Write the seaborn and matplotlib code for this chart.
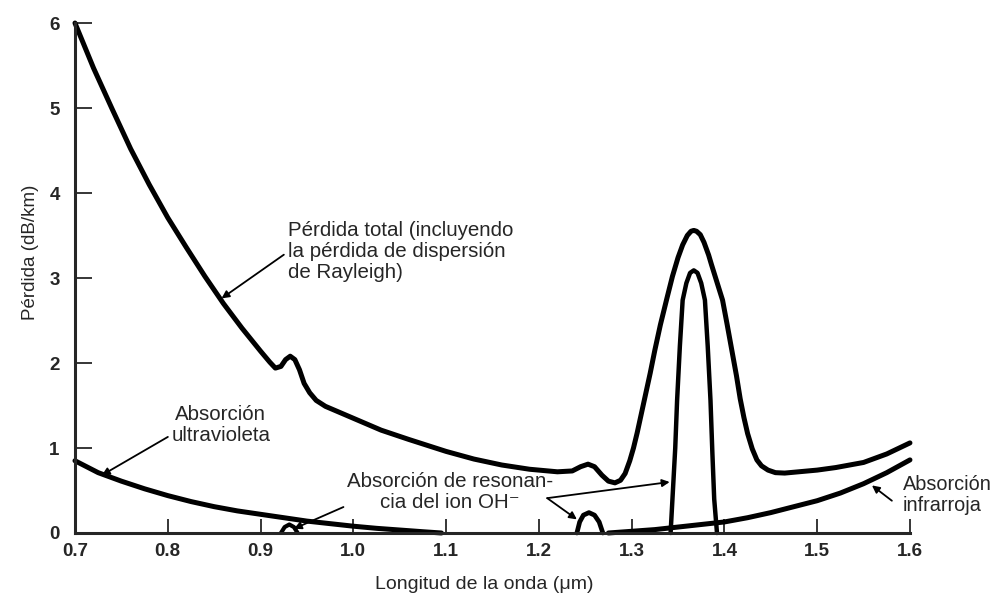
import matplotlib
matplotlib.use("Agg")
import matplotlib.pyplot as plt
import seaborn as sns

# ---- datos ----
# pérdida total (incluye Rayleigh)
total_x = [0.700, 0.720, 0.740, 0.760, 0.780, 0.800, 0.820, 0.840, 0.860, 0.880,
           0.900, 0.910, 0.916, 0.922, 0.927, 0.932, 0.937, 0.942, 0.947, 0.953,
           0.960, 0.970, 0.985, 1.000, 1.030, 1.060, 1.080, 1.100, 1.130, 1.160,
           1.190, 1.220, 1.236, 1.245, 1.253, 1.260, 1.268, 1.275, 1.282, 1.288,
           1.293, 1.298, 1.302, 1.306, 1.310, 1.314, 1.320, 1.325, 1.331, 1.338,
           1.344, 1.350, 1.355, 1.360, 1.364, 1.367, 1.370, 1.374, 1.378, 1.383,
           1.386, 1.392, 1.398, 1.403, 1.408, 1.413, 1.417, 1.421, 1.425, 1.430,
           1.435, 1.440, 1.447, 1.455, 1.465, 1.480, 1.500, 1.520, 1.550, 1.575,
           1.600]
total_y = [6.00, 5.47, 4.99, 4.52, 4.10, 3.71, 3.36, 3.02, 2.70, 2.41,
           2.14, 2.01, 1.94, 1.96, 2.04, 2.08, 2.04, 1.92, 1.76, 1.65,
           1.56, 1.49, 1.42, 1.35, 1.21, 1.10, 1.03, 0.96, 0.87, 0.80,
           0.75, 0.72, 0.73, 0.78, 0.81, 0.78, 0.68, 0.61, 0.59, 0.62,
           0.70, 0.85, 1.00, 1.18, 1.38, 1.58, 1.88, 2.15, 2.45, 2.76,
           3.02, 3.24, 3.39, 3.50, 3.55, 3.56, 3.55, 3.51, 3.42, 3.27,
           3.16, 2.95, 2.74, 2.45, 2.15, 1.85, 1.58, 1.36, 1.17, 0.99,
           0.86, 0.79, 0.74, 0.71, 0.705, 0.72, 0.74, 0.77, 0.83, 0.93,
           1.06]

# absorción ultravioleta
uv_x = [0.700, 0.725, 0.750, 0.775, 0.800, 0.825, 0.850, 0.875, 0.900,
        0.925, 0.950, 0.975, 1.000, 1.025, 1.050, 1.075, 1.095]
uv_y = [0.85, 0.71, 0.61, 0.52, 0.44, 0.37, 0.31, 0.26, 0.22,
        0.18, 0.14, 0.11, 0.08, 0.055, 0.035, 0.015, 0.00]

# absorción infrarroja
ir_x = [1.275, 1.300, 1.325, 1.350, 1.375, 1.400, 1.425, 1.450, 1.475,
        1.500, 1.525, 1.550, 1.575, 1.600]
ir_y = [0.00, 0.02, 0.04, 0.07, 0.10, 0.13, 0.18, 0.24, 0.31,
        0.38, 0.47, 0.58, 0.71, 0.86]

# picos de resonancia del ion OH-
oh1_x = [0.922, 0.926, 0.931, 0.936, 0.940]
oh1_y = [0.00, 0.07, 0.10, 0.07, 0.00]
oh2_x = [1.241, 1.244, 1.248, 1.254, 1.260, 1.265, 1.269]
oh2_y = [0.00, 0.13, 0.21, 0.24, 0.21, 0.13, 0.00]
oh3_x = [1.342, 1.344, 1.347, 1.349, 1.352, 1.355, 1.359, 1.363, 1.367,
         1.371, 1.375, 1.379, 1.382, 1.385, 1.387, 1.389, 1.392]
oh3_y = [0.00, 0.40, 1.00, 1.56, 2.20, 2.74, 2.94, 3.06, 3.09,
         3.06, 2.94, 2.74, 2.20, 1.56, 0.95, 0.40, 0.00]

x_ticks = [0.7, 0.8, 0.9, 1.0, 1.1, 1.2, 1.3, 1.4, 1.5, 1.6]
x_ticklabels = ['0.7', '0.8', '0.9', '1.0', '1.1', '1.2', '1.3', '1.4', '1.5', '1.6']
y_ticks = [0, 1, 2, 3, 4, 5, 6]

sns.set_style("ticks")
plt.rcParams['font.family'] = ['Liberation Sans', 'DejaVu Sans']

fig = plt.figure(figsize=(9.97, 5.98), dpi=100)
ax = fig.add_axes([0.0752, 0.1087, 0.8375, 0.8528])

curves = [(total_x, total_y, 3.6), (uv_x, uv_y, 3.6), (ir_x, ir_y, 3.6),
          (oh1_x, oh1_y, 3.0), (oh2_x, oh2_y, 3.4), (oh3_x, oh3_y, 3.2)]
for cx, cy, lw in curves:
    sns.lineplot(x=cx, y=cy, ax=ax, color='black', linewidth=lw,
                 sort=False, estimator=None, solid_capstyle='round',
                 solid_joinstyle='round', clip_on=False)

ax.set_xlim(0.7, 1.6)
ax.set_ylim(0, 6)
ax.set_xticks(x_ticks)
ax.set_xticklabels(x_ticklabels, fontweight='bold', fontsize=13.5)
ax.set_yticks(y_ticks)
ax.set_yticklabels([str(v) for v in y_ticks], fontweight='bold', fontsize=13.5)
ax.tick_params(axis='y', direction='in', length=12, width=1.3, pad=11)
ax.tick_params(axis='x', direction='in', length=10, width=1.3, pad=7)

sns.despine(ax=ax)
for side in ['left', 'bottom']:
    ax.spines[side].set_linewidth(2.2)

ax.set_xlabel('Longitud de la onda (μm)', fontsize=14)
ax.set_ylabel('Pérdida (dB/km)', fontsize=13.5)
ax.xaxis.set_label_coords(0.49, -0.085)
ax.yaxis.set_label_coords(-0.043, 0.55)

arrow = dict(arrowstyle='-|>', color='black', lw=1.3, mutation_scale=11,
             shrinkA=0, shrinkB=0)
fs = 14.8

ax.annotate('Pérdida total (incluyendo\nla pérdida de dispersión\nde Rayleigh)',
            xy=(0.858, 2.76), xytext=(0.930, 3.31), fontsize=fs,
            ha='left', va='center', linespacing=1.12,
            arrowprops=dict(arrow, relpos=(-0.02, 0.45)))

ax.annotate('Absorción\nultravioleta', xy=(0.729, 0.68), xytext=(0.857, 1.27),
            fontsize=fs, ha='center', va='center', linespacing=1.12,
            arrowprops=dict(arrow, relpos=(0.0, 0.25)))

ax.annotate('Absorción de resonan-\ncia del ion OH⁻', xy=(0.936, 0.05),
            xytext=(1.104, 0.48), fontsize=fs, ha='center', va='center',
            linespacing=1.12, arrowprops=dict(arrow, relpos=(0.06, 0.3)))
ax.annotate('', xy=(1.341, 0.60), xytext=(1.209, 0.41), arrowprops=arrow)
ax.annotate('', xy=(1.241, 0.16), xytext=(1.209, 0.41), arrowprops=arrow)

ax.annotate('Absorción\ninfrarroja', xy=(1.559, 0.56), xytext=(1.592, 0.45),
            fontsize=14.3, ha='left', va='center', linespacing=1.12,
            annotation_clip=False, arrowprops=dict(arrow, relpos=(-0.12, 0.35)))

fig.savefig('out.png', dpi=100)
